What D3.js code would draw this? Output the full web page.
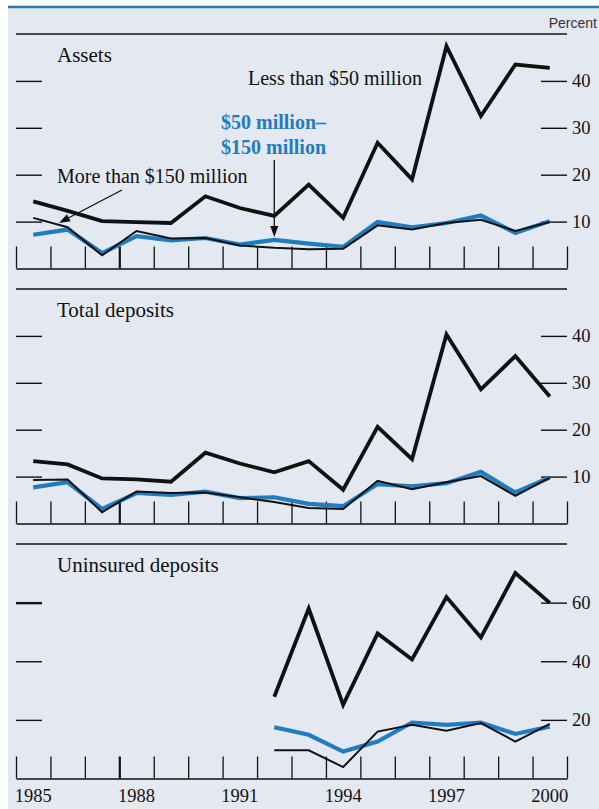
<!DOCTYPE html>
<html><head><meta charset="utf-8">
<script src="https://cdn.jsdelivr.net/npm/d3@7/dist/d3.min.js"></script>
<style>body{margin:0;background:#fff}svg{display:block}</style>
</head><body>
<svg id="c" width="599" height="809"></svg>
<script>
// ---------- data ----------
const years = [1985,1986,1987,1988,1989,1990,1991,1992,1993,1994,1995,1996,1997,1998,1999,2000];
const yearLabels = [1985,1988,1991,1994,1997,2000];

const assetsSmall = [14.3,12.3,10.1,9.9,9.7,15.4,12.9,11.2,17.9,10.8,26.8,19.0,47.4,32.5,43.5,42.8];
const assetsMid   = [7.2,8.3,3.3,6.9,6.0,6.5,5.1,6.1,5.3,4.6,9.9,8.8,9.7,11.3,7.6,10.1];
const assetsLarge = [10.8,8.8,2.8,8.0,6.4,6.5,4.9,4.4,4.1,4.2,9.2,8.3,9.7,10.4,8.0,9.9];

const depSmall = [13.3,12.6,9.6,9.4,8.9,15.1,12.8,10.9,13.3,7.2,20.6,13.7,40.3,28.6,35.7,27.1];
const depMid   = [7.7,8.8,3.1,6.5,6.1,6.8,5.4,5.6,4.2,3.7,8.4,7.9,8.6,11.0,6.6,9.8];
const depLarge = [9.3,9.4,2.4,6.8,6.5,6.6,5.6,4.6,3.3,3.1,9.1,7.3,8.8,10.1,5.9,9.8];

const unSmall = [null,null,null,null,null,null,null,27.9,58.0,25.1,49.5,40.6,61.9,48.1,70.1,59.9];
const unMid   = [null,null,null,null,null,null,null,17.5,14.9,9.2,12.6,19.1,18.3,19.1,15.2,17.7];
const unLarge = [null,null,null,null,null,null,null,9.6,9.6,3.9,16.0,18.3,16.3,18.9,12.6,18.6];

const panelTitles = ["Assets","Total deposits","Uninsured deposits"];
const panelMax = [50,50,80];
const panelTicks = [[10,20,30,40],[10,20,30,40],[20,40,60]];
const panelSeries = [
  [assetsSmall, assetsMid, assetsLarge],
  [depSmall, depMid, depLarge],
  [unSmall, unMid, unLarge]
];

// ---------- style ----------
const BG = "#e4e8f1", BLUE = "#1f7cbf", INK = "#111";
const SERIF = "'Liberation Serif','Times New Roman',serif";
const SANS = "'Liberation Sans',Arial,sans-serif";

const svg = d3.select("#c");
svg.append("rect").attr("x",8).attr("y",7).attr("width",591).attr("height",802).attr("fill",BG);
svg.append("line").attr("x1",8).attr("x2",599).attr("y1",7).attr("y2",7)
  .attr("stroke",BLUE).attr("stroke-width",2.5);

const L = 16, R = 567;
const x = d3.scaleBand().domain(years).range([L,R]).padding(0);
const xc = d => x(d) + x.bandwidth()/2;
const xEdge = d3.scaleLinear().domain([1985,2001]).range([L,R]);

svg.append("text").attr("x",597).attr("y",28).attr("text-anchor","end")
  .attr("font-family",SANS).attr("font-size",14).attr("fill","#333").text("Percent");

const panels = [];
panelTitles.forEach((title,i)=>{
  const top = 34 + 255*i, base = top + 234.5;
  const y = d3.scaleLinear().domain([0,panelMax[i]]).range([base,top]);
  panels.push(y);
  const g = svg.append("g");

  // top rule
  g.append("line").attr("x1",L).attr("x2",R).attr("y1",top).attr("y2",top)
    .attr("stroke", i===0 ? "#4a4a4a" : INK).attr("stroke-width", i===0 ? 2 : 1.4);

  // title
  g.append("text").attr("x",57).attr("y",top+28).attr("font-family",SERIF)
    .attr("font-size",21).attr("fill",INK).text(title);

  // left ticks
  const la = d3.axisRight(y).tickValues(panelTicks[i]).tickSize(26).tickFormat("");
  const lg = g.append("g").attr("transform",`translate(${L},0)`).call(la);
  lg.select(".domain").remove();
  lg.selectAll(".tick line").attr("stroke",INK).attr("stroke-width",d=>(i===2&&d===60)?2.4:1.4);

  // right ticks + labels
  const ra = d3.axisRight(y).tickValues(panelTicks[i]).tickSize(26).tickPadding(5);
  const rg = g.append("g").attr("transform",`translate(${R-26},0)`).call(ra);
  rg.select(".domain").remove();
  rg.selectAll(".tick line").attr("stroke",INK).attr("stroke-width",1.4);
  rg.selectAll(".tick text").attr("font-family",SERIF).attr("font-size",18.5).attr("fill",INK);

  // bottom axis with year-edge ticks
  const ba = d3.axisTop(xEdge).tickValues(d3.range(1985,2002)).tickSize(22).tickFormat("").tickSizeOuter(0);
  const bg = g.append("g").attr("transform",`translate(0,${base})`).call(ba);
  bg.select(".domain").attr("stroke",INK).attr("stroke-width",1.6);
  bg.selectAll(".tick line").attr("stroke",INK).attr("stroke-width",d=>d===1988?2.2:1.3);

  // series
  const [small, mid, large] = panelSeries[i];
  const line = d3.line().defined(d=>d!=null).x((d,j)=>xc(years[j])).y(d=>y(d));
  g.append("path").datum(mid).attr("d",line).attr("fill","none")
    .attr("stroke",BLUE).attr("stroke-width",4.2).attr("stroke-linejoin","miter");
  g.append("path").datum(large).attr("d",line).attr("fill","none")
    .attr("stroke",INK).attr("stroke-width",2).attr("stroke-linejoin","miter");
  g.append("path").datum(small).attr("d",line).attr("fill","none")
    .attr("stroke",INK).attr("stroke-width",3.8).attr("stroke-linejoin","miter");
});

// year labels
const yl = d3.axisBottom(x).tickValues(yearLabels).tickSize(0).tickPadding(10);
const ylg = svg.append("g").attr("transform",`translate(0,${34+255*2+234.5})`).call(yl);
ylg.select(".domain").remove();
ylg.selectAll(".tick text").attr("font-family",SERIF).attr("font-size",18.5).attr("fill",INK);

// ---------- annotations (panel 1) ----------
const y0 = panels[0];
const ann = svg.append("g").attr("font-family",SERIF).attr("fill",INK);
ann.append("text").attr("x",248).attr("y",85).attr("font-size",20).text("Less than $50 million");
ann.append("text").attr("x",57).attr("y",183).attr("font-size",20).text("More than $150 million");
ann.append("text").attr("x",221).attr("y",129).attr("font-size",20).attr("font-weight","bold")
  .attr("fill",BLUE).text("$50 million\u2013");
ann.append("text").attr("x",221).attr("y",153.5).attr("font-size",20).attr("font-weight","bold")
  .attr("fill",BLUE).text("$150 million");

function arrow(x1,y1,x2,y2){
  const ang = Math.atan2(y2-y1,x2-x1), len = 11, w = 4;
  const bx = x2 - len*Math.cos(ang), by = y2 - len*Math.sin(ang);
  ann.append("line").attr("x1",x1).attr("y1",y1).attr("x2",bx).attr("y2",by)
    .attr("stroke",INK).attr("stroke-width",1.3);
  const px = -Math.sin(ang)*w, py = Math.cos(ang)*w;
  ann.append("path").attr("d",`M${x2},${y2}L${bx+px},${by+py}L${bx-px},${by-py}Z`).attr("fill",INK);
}
// arrow to the $50-150M line at 1992
const i92 = years.indexOf(1992);
arrow(xc(1992),160,xc(1992),y0(assetsMid[i92])-3);
// arrow to the >$150M line between 1985 and 1986
const tx = xc(1985) + 0.75*(xc(1986)-xc(1985));
const ty = y0(assetsLarge[0] + 0.75*(assetsLarge[1]-assetsLarge[0])) - 2;
arrow(122,190,tx,ty);
</script>
</body></html>
